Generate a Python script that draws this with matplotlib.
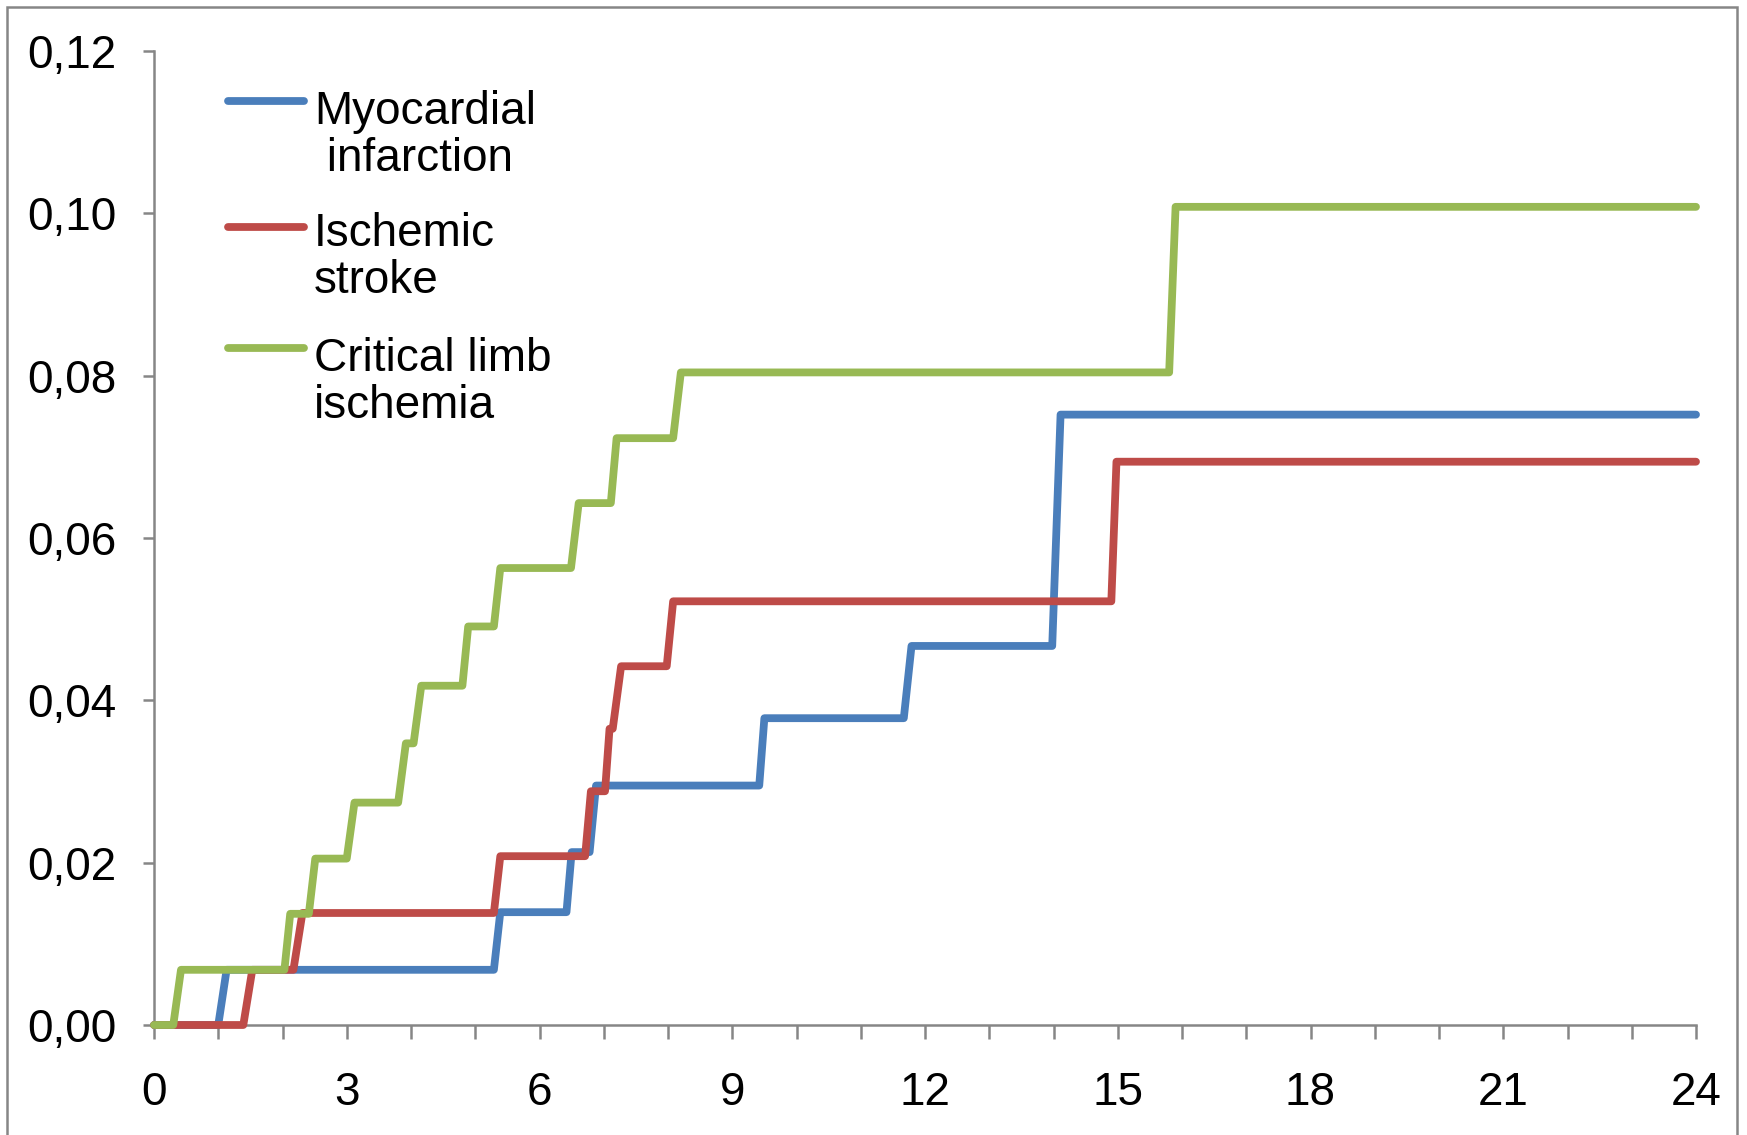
import matplotlib
matplotlib.use("Agg")
import matplotlib.pyplot as plt
from matplotlib.ticker import MultipleLocator, FixedLocator, FixedFormatter
from matplotlib.patches import Rectangle

plt.rcParams['font.family'] = ['Liberation Sans', 'DejaVu Sans']

# curvas acumuladas (meses, incidencia)
mi_x = [0, 1.0, 1.13, 5.29, 5.39, 6.42, 6.5, 6.78, 6.88, 9.42, 9.5, 11.67, 11.79, 13.98, 14.11, 24]
mi_y = [0, 0, 0.0068, 0.0068, 0.0139, 0.0139, 0.0213, 0.0213, 0.0295, 0.0295,
        0.0378, 0.0378, 0.0467, 0.0467, 0.0752, 0.0752]

is_x = [0, 1.39, 1.53, 2.17, 2.31, 5.29, 5.39, 6.71, 6.8, 7.02, 7.09, 7.14, 7.27,
        7.98, 8.08, 14.9, 14.98, 24]
is_y = [0, 0, 0.0068, 0.0068, 0.0138, 0.0138, 0.0208, 0.0208, 0.0288, 0.0288,
        0.0365, 0.0365, 0.0442, 0.0442, 0.0522, 0.0522, 0.0694, 0.0694]

cli_x = [0, 0.3, 0.42, 2.03, 2.12, 2.41, 2.51, 3.0, 3.12, 3.8, 3.92, 4.04, 4.16,
         4.8, 4.89, 5.29, 5.39, 6.49, 6.61, 7.11, 7.2, 8.08, 8.2, 15.8, 15.9, 24]
cli_y = [0, 0, 0.0068, 0.0068, 0.0137, 0.0137, 0.0205, 0.0205, 0.0274, 0.0274,
         0.0347, 0.0347, 0.0418, 0.0418, 0.0491, 0.0491, 0.0563, 0.0563, 0.0643,
         0.0643, 0.0723, 0.0723, 0.0804, 0.0804, 0.1008, 0.1008]

etiquetas = ['Myocardial\n infarction', 'Ischemic\nstroke', 'Critical limb\nischemia']
colores = ['#4A7EBB', '#BE4B48', '#98B954']

yticks = [0, 0.02, 0.04, 0.06, 0.08, 0.10, 0.12]
ytick_labels = ['0,00', '0,02', '0,04', '0,06', '0,08', '0,10', '0,12']
xticks = [0, 3, 6, 9, 12, 15, 18, 21, 24]

fig = plt.figure(figsize=(17.47, 11.35), dpi=100)
ax = fig.add_axes([154 / 1747, 1 - 1025 / 1135, 1542 / 1747, 974 / 1135])

for xs, ys, c in zip([mi_x, is_x, cli_x], [mi_y, is_y, cli_y], colores):
    ax.plot(xs, ys, color=c, lw=5.6, solid_joinstyle='round', solid_capstyle='round',
            clip_on=False, zorder=3)

ax.set_xlim(0, 24)
ax.set_ylim(0, 0.12)
ax.xaxis.set_major_locator(FixedLocator(xticks))
ax.xaxis.set_minor_locator(MultipleLocator(1))
ax.yaxis.set_major_locator(FixedLocator(yticks))
ax.yaxis.set_major_formatter(FixedFormatter(ytick_labels))

gris = '#868686'
for s in ['top', 'right']:
    ax.spines[s].set_visible(False)
for s in ['left', 'bottom']:
    ax.spines[s].set_color(gris)
    ax.spines[s].set_linewidth(1.8)
ax.tick_params(axis='x', which='both', direction='out', length=10, width=1.8,
               color=gris, labelsize=33, pad=23)
ax.tick_params(axis='y', which='both', direction='out', length=8, width=1.8,
               color=gris, labelsize=33, pad=19)

# leyenda dibujada a mano (la linea va con la primera fila del texto)
lin_y = [101, 227, 348]
txt_y = [171, 293, 418]  # linea base de la segunda fila
for c, lab, ly, ty in zip(colores, etiquetas, lin_y, txt_y):
    yl = (1025 - ly) / 974
    ax.plot([(228 - 154) / 1542, (304 - 154) / 1542], [yl, yl], color=c, lw=5.6,
            solid_capstyle='round', transform=ax.transAxes, clip_on=False)
    ax.text((314 - 154) / 1542, (1025 - ty) / 974, lab, transform=ax.transAxes,
            fontsize=33, va='baseline', ha='left', linespacing=1.08)

# marco gris del grafico
fig.patches.append(Rectangle((7 / 1747, -0.05), 1730 / 1747, 1.05 - 7 / 1135,
                             transform=fig.transFigure, fill=False,
                             edgecolor=gris, lw=1.8))

fig.savefig('out.png', dpi=100)
